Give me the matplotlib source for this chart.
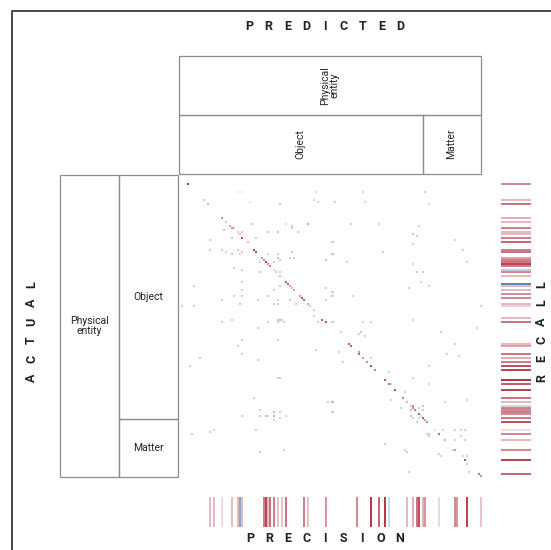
import numpy as np
import matplotlib as mpl
mpl.use("Agg")
import matplotlib.pyplot as plt
from matplotlib.colors import LinearSegmentedColormap
from matplotlib.patches import Rectangle

W, H = 551, 550
N_CLASSES = 151
N_OBJECT = 122  # first 122 leaf classes sit under "Object", the rest under "Matter"

ROOT_LABEL = "Physical\nentity"
CHILD_LABELS = ["Object", "Matter"]
CHILD_SIZES = [N_OBJECT, N_CLASSES - N_OBJECT]

# non-empty cells of the confusion matrix (row = actual, col = predicted)
CELL_ROW = [4, 8, 8, 12, 14, 13, 12, 13, 14, 21, 23, 24, 24, 25, 24, 25, 26, 26, 27, 28, 28, 26, 28, 28,
            29, 28, 31, 31, 32, 31, 33, 37, 37, 37, 38, 37, 38, 38, 39, 39, 39, 39, 38, 41, 42, 43, 44, 45,
            41, 43, 41, 41, 42, 43, 42, 46, 47, 48, 47, 48, 48, 50, 53, 53, 54, 55, 55, 55, 56, 57, 57, 57,
            56, 60, 60, 60, 60, 62, 62, 62, 62, 61, 62, 62, 65, 65, 64, 64, 64, 64, 64, 65, 67, 70, 72, 73,
            72, 72, 72, 73, 73, 73, 73, 72, 73, 76,
            8, 8, 13, 13, 14, 24, 24, 25, 29, 30, 32, 33, 34, 37, 38, 39, 43, 44, 43, 48, 48, 53, 55, 56,
            58, 60, 60, 65, 73, 73, 73, 72, 76,
            82, 82, 85, 87, 89, 91, 92, 95, 101, 101, 111, 113, 117, 120, 120, 120, 120, 118, 120, 118, 120,
            121, 122, 127, 128, 127, 129, 138, 137,
            78, 79, 78, 80, 78, 84, 85, 84, 88, 88, 89, 89, 90, 91, 91, 93, 93, 95, 97, 95, 98, 101, 102,
            104, 104, 104, 107, 108, 111, 112, 113, 113, 112, 113, 115, 115, 116, 117, 119, 121, 116, 117,
            115, 116, 117, 120, 121, 120, 121, 122, 123, 123, 118, 127, 127, 127, 127, 127, 129, 129, 129,
            130, 132, 132, 130, 132, 134, 137, 137, 137, 138, 139, 140, 140, 140, 142, 144, 148, 148, 149, 150]
CELL_COL = [4, 30, 68, 12, 14, 35, 67, 69, 50, 21, 23, 36, 53, 56, 64, 25, 26, 27, 22, 44, 49, 56, 59, 29,
            30, 31, 31, 26, 15, 38, 34, 15, 21, 29, 31, 37, 38, 23, 26, 30, 44, 49, 56, 41, 42, 43, 44, 45,
            49, 47, 55, 57, 50, 40, 73, 27, 31, 40, 47, 48, 50, 50, 31, 53, 54, 7, 50, 55, 56, 57, 31, 47,
            73, 27, 31, 44, 60, 21, 39, 49, 55, 61, 62, 73, 7, 1, 30, 47, 49, 58, 64, 65, 67, 67, 26, 44,
            49, 50, 51, 21, 49, 52, 69, 71, 73, 39,
            91, 122, 77, 92, 124, 85, 99, 119, 116, 118, 137, 76, 116, 141, 101, 76, 83, 116, 143, 118, 121,
            120, 124, 114, 76, 76, 86, 150, 76, 91, 95, 116, 148,
            31, 49, 29, 68, 31, 10, 39, 5, 49, 50, 37, 74, 40, 31, 40, 43, 44, 47, 47, 50, 53, 50, 47, 17,
            15, 38, 6, 40, 52,
            80, 89, 90, 92, 130, 84, 85, 137, 79, 89, 89, 133, 139, 91, 95, 93, 81, 95, 97, 124, 104, 116,
            102, 104, 105, 124, 107, 112, 111, 105, 113, 132, 143, 76, 115, 116, 116, 117, 119, 121, 119,
            121, 121, 110, 115, 115, 116, 120, 119, 122, 118, 123, 76, 127, 131, 137, 140, 142, 123, 124,
            129, 124, 132, 137, 140, 142, 102, 136, 137, 112, 113, 129, 130, 141, 143, 142, 143, 114, 144,
            149, 150]
CELL_VAL = [0.85, 0.2, 0.2, 0.25, 0.35, 0.15, -0.25, 0.25, -0.3, 0.5, 0.3, -0.3, 0.2, 0.25, 0.4, 0.4,
            0.45, 0.35, 0.25, -0.3, -0.35, 0.25, 0.25, 0.25, 0.3, 0.25, 0.75, -0.3, 0.25, 0.25, 0.3, -0.35,
            -0.35, -0.3, 0.25, 0.8, 0.75, 0.2, 0.25, 0.2, 0.2, -0.3, -0.3, 0.45, 0.5, 0.8, 0.5, 0.55, -0.35,
            -0.3, -0.3, -0.3, -0.3, -0.3, 0.3, -0.3, -0.3, -0.3, -0.25, 0.3, -0.3, 0.3, 0.25, 0.7, 0.7, -0.3,
            -0.3, 0.4, 0.3, 0.4, 0.25, -0.3, 0.25, -0.3, 0.25, 0.25, 0.45, 0.25, -0.3, -0.3, 0.25, 0.75,
            0.7, 0.25, -0.3, 0.25, 0.25, -0.3, -0.3, 0.25, 0.4, 0.3, 0.25, 0.2, 0.25, -0.3, -0.35, -0.35,
            0.25, 0.25, -0.3, -0.3, -0.3, 0.7, 0.75, -0.3,
            0.2, -0.3, -0.3, 0.2, -0.25, -0.3, -0.3, -0.3, -0.35, -0.3, 0.25, -0.3, -0.3, 0.25, 0.25, -0.35,
            -0.3, 0.2, -0.3, 0.25, 0.25, 0.25, -0.3, -0.3, -0.3, -0.3, 0.25, -0.3, -0.3, 0.25, -0.3, -0.3,
            0.25,
            0.25, -0.3, -0.3, 0.25, 0.25, -0.3, -0.3, 0.25, -0.3, -0.3, 0.25, 0.25, -0.3, -0.3, -0.3, 0.25,
            0.25, -0.4, -0.45, 0.25, 0.2, -0.3, -0.3, -0.3, 0.25, 0.25, -0.3, -0.3, -0.3,
            -0.3, 0.25, 0.3, 0.25, -0.3, 0.7, 0.65, -0.3, 0.25, 0.45, 0.65, -0.3, -0.3, 0.4, -0.3, 0.5,
            -0.3, 0.8, 0.55, -0.3, 0.25, -0.3, 0.75, 0.6, 0.3, 0.2, 0.7, 0.25, 0.5, 0.25, 0.35, 0.25, -0.3,
            -0.4, -0.3, 0.5, 0.5, 0.6, 0.7, 0.75, -0.3, -0.3, 0.3, -0.3, 0.3, 0.25, -0.3, -0.25, -0.25, 0.4,
            -0.3, 0.5, -0.3, 0.15, 0.25, 0.25, -0.3, -0.3, 0.25, -0.3, 0.65, -0.3, 0.35, 0.25, 0.25, -0.3,
            -0.3, -0.3, 0.45, -0.3, 0.25, 0.25, 0.25, 0.25, -0.3, 0.75, -0.3, -0.3, 0.25, 0.6, 0.5]

RECALL_ROWS = [4, 12, 14, 21, 23, 26, 28, 29, 31, 33, 37, 38, 41, 42, 43, 44, 45, 47, 48, 50, 54, 55, 57,
               59, 61, 64, 65, 71, 73, 84, 85, 89, 91, 93, 95, 97, 102, 104, 107, 111, 113, 115, 116, 117,
               118, 119, 121, 123, 127, 129, 132, 137, 142, 149]
RECALL_VALS = [0.5, 0.3, 0.6, 0.35, 0.3, 0.55, 0.3, 0.3, 0.55, 0.65, 0.55, 0.6, 0.4, 0.55, 0.6, 0.8, 0.55,
               -0.3, 0.5, 0.3, -0.8, 0.3, 0.3, 0.5, 0.5, 0.3, 0.2, 0.3, 0.6, 0.3, 0.4, 0.6, 0.35, 0.55,
               0.75, 0.8, 0.85, 0.7, 0.8, 0.6, 0.3, -0.25, 0.55, 0.5, 0.55, 0.5, 0.55, 0.75, 0.15, 0.5,
               0.3, 0.5, 0.8, 0.65]

PREC_COLS = [15, 17, 21, 26, 29, 30, 31, 42, 43, 44, 45, 47, 49, 51, 53, 62, 64, 73, 88, 95, 99, 102, 104,
             113, 116, 118, 119, 121, 122, 129, 137, 138, 143, 150]
PREC_VALS = [0.3, 0.3, 0.15, 0.3, 0.3, -0.6, 0.3, 0.55, 0.8, 0.3, 0.6, 0.55, 0.25, 0.25, 0.6, 0.55, 0.25,
             0.45, 0.5, 0.85, 0.65, 0.85, -0.25, 0.3, 0.35, 0.6, 0.75, 0.35, 0.45, -0.2, 0.5, 0.45, 0.8,
             0.25]

CMAP = LinearSegmentedColormap.from_list("div", ["#2f6db5", "#ffffff", "#a8182c"])
CMAP.set_bad((1, 1, 1, 0))
BOX_EDGE = "#8c8c8c"
TEXT = "#222222"

plt.rcParams.update({"font.family": ["Roboto", "DejaVu Sans"], "font.size": 7.5})


def px_axes(fig, x0, y0, x1, y1):
    # axes placed by pixel box (top-left origin)
    ax = fig.add_axes([x0 / W, 1 - y1 / H, (x1 - x0) / W, (y1 - y0) / H])
    ax.set_axis_off()
    return ax


def spaced(fig, word, cx, cy, pitch, vertical=False, size=9):
    n = len(word)
    for i, ch in enumerate(word):
        off = (i - (n - 1) / 2) * pitch
        if vertical:
            x, y = cx, cy - off
        else:
            x, y = cx + off, cy
        fig.text(x / W, 1 - y / H, ch, ha="center", va="center", fontsize=size,
                 fontweight="bold", color=TEXT, rotation=90 if vertical else 0)


def show_grid(ax, arr):
    ax.imshow(arr, cmap=CMAP, vmin=-1, vmax=1, interpolation="nearest", aspect="auto")


fig = plt.figure(figsize=(W / 100, H / 100), dpi=100)

# outer frame (only top and left edges fall inside the canvas)
frame = px_axes(fig, 0, 0, W, H)
frame.set_xlim(0, W)
frame.set_ylim(H, 0)
frame.plot([12, 12, W + 5], [H + 5, 10.5, 10.5], color="#3a3a3a", lw=1.3, solid_capstyle="butt")

mx0, my0, mx1, my1 = 178.5, 175, 480.5, 477

# confusion matrix
mat = np.full((N_CLASSES, N_CLASSES), np.nan)
mat[CELL_ROW, CELL_COL] = CELL_VAL
show_grid(px_axes(fig, mx0, my0, mx1, my1), mat)

# recall strip (one line per actual class)
rec = np.full((N_CLASSES, 1), np.nan)
rec[RECALL_ROWS, 0] = RECALL_VALS
show_grid(px_axes(fig, 501, my0, 531, my1), rec)

# precision strip (one line per predicted class)
prec = np.full((1, N_CLASSES), np.nan)
prec[0, PREC_COLS] = PREC_VALS
show_grid(px_axes(fig, mx0, 497, mx1, 527), prec)

# predicted hierarchy header
axt = px_axes(fig, mx0, 56, mx1, 173.5)
axt.set_xlim(0, N_CLASSES)
axt.set_ylim(2, 0)
axt.add_patch(Rectangle((0, 0), N_CLASSES, 1, fill=False, ec=BOX_EDGE, lw=0.9, clip_on=False))
axt.text(N_CLASSES / 2, 0.5, ROOT_LABEL, rotation=90, ha="center", va="center",
         color=TEXT, linespacing=0.95)
start = 0
for lab, n in zip(CHILD_LABELS, CHILD_SIZES):
    axt.add_patch(Rectangle((start, 1), n, 1, fill=False, ec=BOX_EDGE, lw=0.9, clip_on=False))
    axt.text(start + n / 2, 1.5, lab, rotation=90, ha="center", va="center", color=TEXT)
    start += n

# actual hierarchy header
axl = px_axes(fig, 59.5, my0, 178, my1)
axl.set_xlim(0, 2)
axl.set_ylim(N_CLASSES, 0)
axl.add_patch(Rectangle((0, 0), 1, N_CLASSES, fill=False, ec=BOX_EDGE, lw=0.9, clip_on=False))
axl.text(0.5, N_CLASSES / 2, ROOT_LABEL, ha="center", va="center", color=TEXT,
         linespacing=0.95)
start = 0
for lab, n in zip(CHILD_LABELS, CHILD_SIZES):
    axl.add_patch(Rectangle((1, start), 1, n, fill=False, ec=BOX_EDGE, lw=0.9, clip_on=False))
    axl.text(1.5, start + n / 2, lab, ha="center", va="center", color=TEXT)
    start += n

spaced(fig, "PREDICTED", 325, 26.5, 18.8)
spaced(fig, "PRECISION", 325, 538, 18.6)
spaced(fig, "ACTUAL", 31.5, 331, 18.6, vertical=True)
spaced(fig, "RECALL", 541.5, 331, 18.6, vertical=True)

fig.savefig("out.png", dpi=100)
